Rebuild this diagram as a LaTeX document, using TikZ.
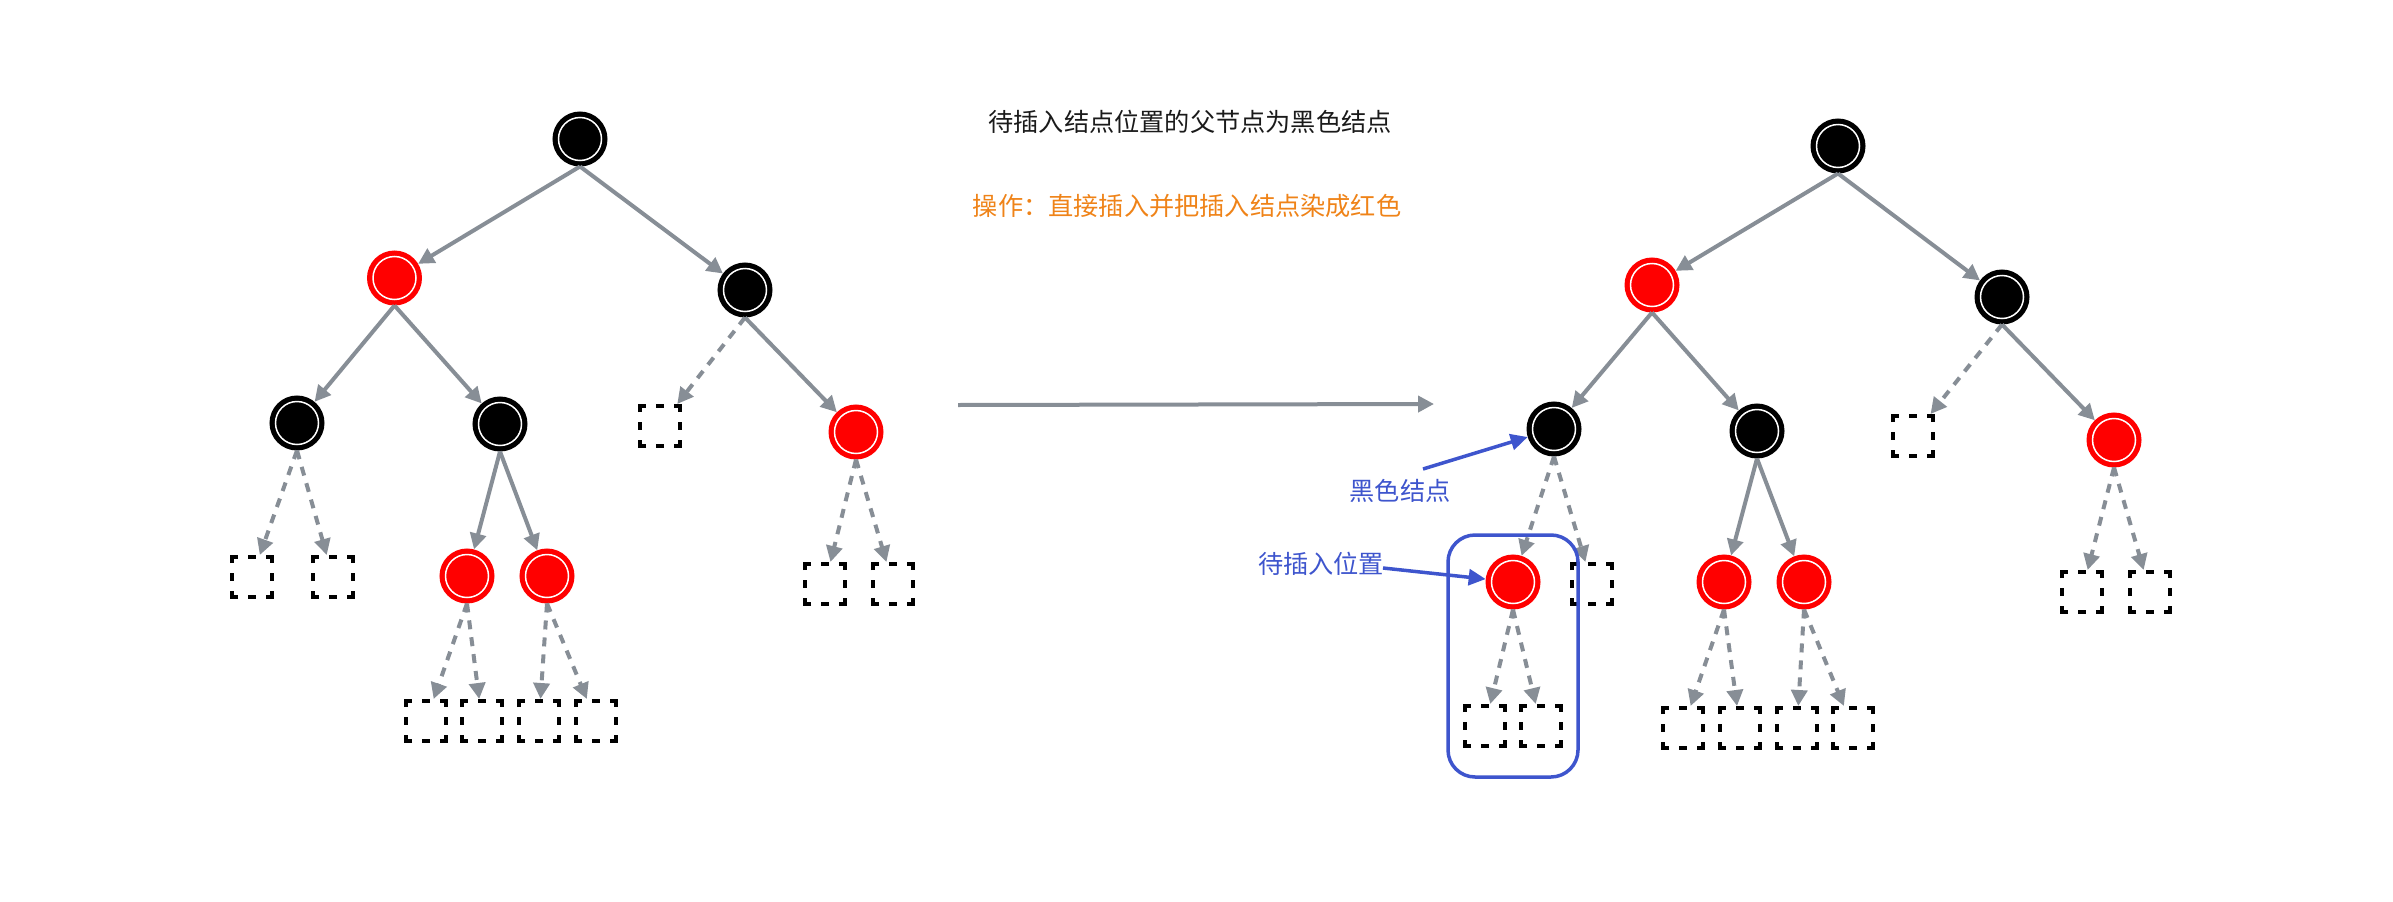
\documentclass[tikz,border=0pt]{standalone}
\usepackage{fontspec}
\newfontfamily\cjk{Noto Sans CJK SC}
\usetikzlibrary{arrows.meta}
\definecolor{edgegray}{RGB}{135,142,150}
\definecolor{ctorange}{RGB}{239,131,24}
\definecolor{ctblue}{RGB}{62,85,205}
\definecolor{titleblack}{RGB}{26,26,26}
\definecolor{nodered}{RGB}{255,0,0}
\newcommand\drawleaf[1]{%
  \draw[leafline] ([shift={(2pt,-8pt)}]#1.north west) -- ([shift={(2pt,-2pt)}]#1.north west) -- ([shift={(8pt,-2pt)}]#1.north west);
  \draw[leafline] ([shift={(36pt,-2pt)}]#1.north west) -- ([shift={(42pt,-2pt)}]#1.north west) -- ([shift={(42pt,-8pt)}]#1.north west);
  \draw[leafline] ([shift={(42pt,-36pt)}]#1.north west) -- ([shift={(42pt,-42pt)}]#1.north west) -- ([shift={(36pt,-42pt)}]#1.north west);
  \draw[leafline] ([shift={(8pt,-42pt)}]#1.north west) -- ([shift={(2pt,-42pt)}]#1.north west) -- ([shift={(2pt,-36pt)}]#1.north west);
  \draw[leafline] ([shift={(18pt,-2pt)}]#1.north west) -- ([shift={(26pt,-2pt)}]#1.north west);
  \draw[leafline] ([shift={(42pt,-18pt)}]#1.north west) -- ([shift={(42pt,-26pt)}]#1.north west);
  \draw[leafline] ([shift={(18pt,-42pt)}]#1.north west) -- ([shift={(26pt,-42pt)}]#1.north west);
  \draw[leafline] ([shift={(2pt,-18pt)}]#1.north west) -- ([shift={(2pt,-26pt)}]#1.north west);
}
\begin{document}
\begin{tikzpicture}[x=1pt,y=-1pt,
  rbnode/.style={circle, minimum size=51pt, inner sep=0pt, line width=4pt,
    path picture={\draw[white,line width=1.5pt] (path picture bounding box.center) circle (21.5pt);}},
  blk/.style={rbnode, draw=black, fill=black},
  rd/.style={rbnode, draw=nodered, fill=nodered},
  leaf/.style={rectangle, minimum width=44pt, minimum height=44pt, inner sep=0pt, outer sep=0pt},
  leafline/.style={black, line width=4pt, line cap=butt, line join=miter},
  edge/.style={draw=edgegray, line width=4pt, -{Triangle[length=16pt,width=16pt]}},
  niledge/.style={edge, dash pattern=on 9pt off 8pt},
  note/.style={draw=ctblue, line width=3.5pt, -{Triangle[length=17pt,width=16pt]}},
  txt/.style={font=\cjk\fontsize{25.2pt}{30pt}\selectfont, inner sep=0pt},
]
\useasboundingbox (0,0) rectangle (2393,902);

% texts
\node[txt, text=titleblack] (title) at (1190,122) {待插入结点位置的父节点为黑色结点};
\node[txt, text=ctorange] (op) at (1187,206) {操作：直接插入并把插入结点染成红色};

% ---------- left tree ----------
\node[blk] (root) at (580,139) {};
\node[rd]  (rl)   at (394.5,278) {};
\node[blk] (br)   at (745,290) {};
\node[blk] (ll)   at (297,423) {};
\node[blk] (lr)   at (500,424) {};
\node[leaf] (brb) at (660,426) {};
\node[rd]  (rr)   at (856,432) {};
\node[leaf] (llb1) at (252,577) {};
\node[leaf] (llb2) at (333,577) {};
\node[rd]  (lrl)  at (467,576) {};
\node[rd]  (lrr)  at (547,576) {};
\node[leaf] (lrlb1) at (426,721) {};
\node[leaf] (lrlb2) at (482,721) {};
\node[leaf] (lrrb1) at (539,721) {};
\node[leaf] (lrrb2) at (596,721) {};
\node[leaf] (rrb1) at (825,584) {};
\node[leaf] (rrb2) at (893,584) {};

\draw[edge] (root.south) -- (rl);
\draw[edge] (root.south) -- (br);
\draw[edge] (rl.south) -- (ll);
\draw[edge] (rl.south) -- (lr);
\draw[niledge] (br.south) -- (brb);
\draw[edge] (br.south) -- (rr);
\draw[niledge] (ll.south) -- (llb1);
\draw[niledge] (ll.south) -- (llb2);
\draw[edge] (lr.south) -- (lrl);
\draw[edge] (lr.south) -- (lrr);
\draw[niledge] (lrl.south) -- (lrlb1);
\draw[niledge] (lrl.south) -- (lrlb2);
\draw[niledge] (lrr.south) -- (lrrb1);
\draw[niledge] (lrr.south) -- (lrrb2);
\draw[niledge] (rr.south) -- (rrb1);
\draw[niledge] (rr.south) -- (rrb2);

% ---------- middle arrow ----------
\coordinate (m1) at (958,405);
\coordinate (m2) at (1434,404);
\draw[edge] (m1) -- (m2);

% ---------- right tree ----------
\node[blk] (Rroot) at (1838,146) {};
\node[rd]  (Rrl)   at (1652,285) {};
\node[blk] (Rbr)   at (2002,297) {};
\node[blk] (Rll)   at (1554,429) {};
\node[blk] (Rlr)   at (1757,431) {};
\node[leaf] (Rbrb) at (1913,436) {};
\node[rd]  (Rrr)   at (2114,440) {};
\node[rd]  (Rins)  at (1513,582) {};
\node[leaf] (Rllb2) at (1592,584) {};
\node[rd]  (Rlrl)  at (1724,582) {};
\node[rd]  (Rlrr)  at (1804,582) {};
\node[leaf] (Rinsb1) at (1485,726) {};
\node[leaf] (Rinsb2) at (1541,726) {};
\node[leaf] (Rlrlb1) at (1683,728) {};
\node[leaf] (Rlrlb2) at (1740,728) {};
\node[leaf] (Rlrrb1) at (1797,728) {};
\node[leaf] (Rlrrb2) at (1853,728) {};
\node[leaf] (Rrrb1) at (2082,592) {};
\node[leaf] (Rrrb2) at (2150,592) {};

\draw[edge] (Rroot.south) -- (Rrl);
\draw[edge] (Rroot.south) -- (Rbr);
\draw[edge] (Rrl.south) -- (Rll);
\draw[edge] (Rrl.south) -- (Rlr);
\draw[niledge] (Rbr.south) -- (Rbrb);
\draw[edge] (Rbr.south) -- (Rrr);
\draw[niledge] (Rll.south) -- (Rins);
\draw[niledge] (Rll.south) -- (Rllb2);
\draw[edge] (Rlr.south) -- (Rlrl);
\draw[edge] (Rlr.south) -- (Rlrr);
\draw[niledge] (Rins.south) -- (Rinsb1);
\draw[niledge] (Rins.south) -- (Rinsb2);
\draw[niledge] (Rlrl.south) -- (Rlrlb1);
\draw[niledge] (Rlrl.south) -- (Rlrlb2);
\draw[niledge] (Rlrr.south) -- (Rlrrb1);
\draw[niledge] (Rlrr.south) -- (Rlrrb2);
\draw[niledge] (Rrr.south) -- (Rrrb1);
\draw[niledge] (Rrr.south) -- (Rrrb2);

% leaf box outlines
\foreach \n in {brb,llb1,llb2,lrlb1,lrlb2,lrrb1,lrrb2,rrb1,rrb2,
                Rbrb,Rllb2,Rinsb1,Rinsb2,Rlrlb1,Rlrlb2,Rlrrb1,Rlrrb2,Rrrb1,Rrrb2}{
  \drawleaf{\n}
}

% ---------- annotations ----------
\draw[ctblue, line width=3.5pt, rounded corners=27pt] (1448,535) rectangle (1578,777);
\node[txt, text=ctblue] (lblBlack) at (1400,491) {黑色结点};
\node[txt, text=ctblue] (lblPos) at (1321,564) {待插入位置};
\coordinate (a1) at (1423,469);
\coordinate (a2) at (1383,568);
\draw[note] (a1) -- (Rll);
\draw[note] (a2) -- (Rins);
\end{tikzpicture}
\end{document}
